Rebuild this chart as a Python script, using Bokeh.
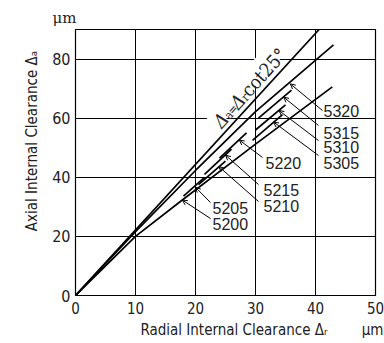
import math
from bokeh.plotting import figure
from bokeh.models import Label, LabelSet, Arrow, OpenHead, FixedTicker, ColumnDataSource
from bokeh.core.properties import value
from bokeh.embed import file_html
from bokeh.resources import INLINE

# ---------------- data ----------------
x_ticks = [0, 10, 20, 30, 40, 50]
y_ticks = [0, 20, 40, 60, 80]

# reference line  Δa = Δr cot25°
ref_x = [0, 40.6]
ref_y = [0, 90.0]

# long curves (bounding bearings)
c5320_x = [0, 10, 20, 30, 43.0]
c5320_y = [0, 21.6, 42.3, 62.2, 84.8]
c5200_x = [0, 10, 17.8, 30, 42.8]
c5200_y = [0, 20.0, 32.3, 51.2, 70.6]

# short curve pieces of the other bearings
seg_names = ["5315", "5310", "5305", "5220", "5215", "5210", "5205"]
seg_x0 = [30.5, 30.0, 29.5, 24.0, 21.5, 20.5, 18.0]
seg_y0 = [60.0, 56.0, 52.5, 46.5, 41.0, 37.5, 33.6]
seg_x1 = [36.0, 35.0, 34.5, 28.5, 26.0, 25.0, 21.5]
seg_y1 = [69.5, 64.5, 61.2, 55.0, 49.5, 45.5, 40.0]

# bearing labels and the points their leaders point to
lab_names = ["5320", "5315", "5310", "5305", "5220", "5215", "5210", "5205", "5200"]
tip_x = [35.8, 34.7, 33.9, 33.0, 27.3, 25.0, 23.9, 20.0, 17.8]
tip_y = [71.6, 67.1, 62.6, 58.7, 52.6, 47.5, 43.6, 36.6, 32.3]

# ---------------- layout ----------------
W, H = 384, 343
BL, BR, BT, BB = 75, 9, 29, 48
FW, FH = W - BL - BR, H - BT - BB
X0, X1, Y0, Y1 = 0, 50, 0, 90


def dx(px):
    return X0 + (px - BL) / FW * (X1 - X0)


def dy(py):
    return Y0 + (BT + FH - py) / FH * (Y1 - Y0)


COND = "DejaVu Sans Condensed"
SANS = "Liberation Sans"
SERIF = "DejaVu Serif Condensed"
TXT = "#222222"
NB = "\u00a0"

p = figure(width=W, height=H, x_range=(X0, X1), y_range=(Y0, Y1),
           output_backend="svg", toolbar_location=None, title="μm",
           min_border_left=BL, min_border_right=BR,
           min_border_top=BT, min_border_bottom=BB)
p.background_fill_color = "white"
p.border_fill_color = "white"
p.outline_line_color = "black"
p.outline_line_width = 1.2

# unit above the y axis
p.title.align = "left"
p.title.offset = -23
p.title.standoff = 5
p.title.text_font = "DejaVu Serif"
p.title.text_font_size = "15px"
p.title.text_font_style = "normal"
p.title.text_color = TXT

p.xaxis.ticker = FixedTicker(ticks=x_ticks)
p.yaxis.ticker = FixedTicker(ticks=y_ticks)
for ax in (p.xaxis, p.yaxis):
    ax.axis_line_color = None
    ax.major_tick_line_color = None
    ax.minor_tick_line_color = None
    ax.major_tick_in = 0
    ax.major_tick_out = 0
    ax.major_label_text_font = COND
    ax.major_label_text_color = TXT
    ax.axis_label_text_font = COND
    ax.axis_label_text_font_style = "normal"
    ax.axis_label_text_font_size = "15px"
    ax.axis_label_text_color = TXT
p.xaxis.major_label_text_font_size = "15px"
p.yaxis.major_label_text_font_size = "16px"
p.xaxis.major_label_standoff = 6
p.yaxis.major_label_standoff = 5
p.xaxis.axis_label = NB * 17 + "Radial Internal Clearance Δᵣ" + NB * 8 + "μm"
p.xaxis.axis_label_standoff = 4
p.yaxis.axis_label = NB * 10 + "Axial Internal Clearance Δₐ"
p.yaxis.axis_label_standoff = 8
for g in (p.xgrid, p.ygrid):
    g.grid_line_color = "black"
    g.grid_line_width = 1
    g.grid_line_alpha = 1.0

# white box under the Δa = Δr cot25° label (masks the grid)
ang = math.radians(48)
ca, sa = math.cos(ang), math.sin(ang)
ax0, ay0 = dx(216), dy(124)
p.rect(x=[dx(216 + 48 * ca - 6 * sa)], y=[dy(124 - 48 * sa - 6 * ca)], width=100, height=19,
       angle=ang, width_units="screen", height_units="screen",
       fill_color="white", line_color=None)

LW = 1.7
p.line(ref_x, ref_y, line_color="black", line_width=LW)
p.line(c5320_x, c5320_y, line_color="black", line_width=LW)
p.line(c5200_x, c5200_y, line_color="black", line_width=LW)
seg_src = ColumnDataSource(dict(x0=seg_x0, y0=seg_y0, x1=seg_x1, y1=seg_y1, name=seg_names))
p.segment("x0", "y0", "x1", "y1", source=seg_src, line_color="black", line_width=LW)

# bearing label positions (px of label left / middle)
lab_px = [323, 323, 323, 323, 265, 263, 263, 212, 212]
lab_py = [110, 132, 146, 162, 162, 189, 205, 207, 223]
tail_px = [322, 318, 318, 318, 262, 258, 258, 210, 210]
tail_py = [110, 125, 140, 155, 157, 184, 201, 202, 218]

lab_src = ColumnDataSource(dict(x=[dx(v) for v in lab_px], y=[dy(v) for v in lab_py], t=lab_names))
p.add_layout(LabelSet(x="x", y="y", text="t", source=lab_src, text_font=value(SANS),
                      text_font_size=value("16px"), text_color=TXT, text_align="left",
                      text_baseline="middle"))

arr_src = ColumnDataSource(dict(xs=[dx(v) for v in tail_px], ys=[dy(v) for v in tail_py],
                                xe=tip_x, ye=tip_y))
p.add_layout(Arrow(end=OpenHead(size=5, line_width=1, line_color="black"),
                   x_start="xs", y_start="ys", x_end="xe", y_end="ye",
                   source=arr_src, line_width=1, line_color="black"))

pieces = [("Δ", 0, 0, "19px", "italic"), ("a", 12, 3, "12px", "normal"),
          ("=", 17.5, 2, "12px", "normal"), ("Δ", 25, 0, "19px", "italic"),
          ("r", 37, 3, "12px", "normal"), ("cot25°", 42, 0, "19px", "normal")]
for t, d, s, fs, st in pieces:
    p.add_layout(Label(x=ax0, y=ay0, x_offset=d * ca + s * sa, y_offset=d * sa - s * ca,
                       text=t, angle=ang, text_font=SERIF, text_font_size=fs,
                       text_font_style=st, text_color=TXT, text_align="left",
                       text_baseline="alphabetic"))

open("out.html", "w").write(file_html(p, INLINE))
